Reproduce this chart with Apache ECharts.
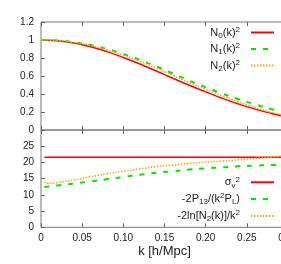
<!DOCTYPE html>
<html><head><meta charset="utf-8">
<script src="https://cdn.jsdelivr.net/npm/echarts@6/dist/echarts.min.js"></script>
<style>html,body{margin:0;padding:0;background:#fff}#c{width:281px;height:264px}</style>
</head><body><div id="c"></div>
<script>
// top panel: k values and N(k)^2 curves
const kTop = [0, 0.02, 0.04, 0.06, 0.08, 0.10, 0.12, 0.14, 0.16, 0.18, 0.20, 0.22, 0.24, 0.26, 0.28, 0.30];
const N0sq = [1.0, 0.991, 0.966, 0.925, 0.871, 0.806, 0.733, 0.655, 0.575, 0.497, 0.424, 0.352, 0.288, 0.232, 0.184, 0.143];
const N1sq = [1.0, 0.995, 0.975, 0.945, 0.90, 0.845, 0.778, 0.706, 0.628, 0.549, 0.474, 0.405, 0.342, 0.285, 0.232, 0.19];
const N2sq = [1.0, 0.994, 0.973, 0.94, 0.89, 0.832, 0.765, 0.69, 0.61, 0.528, 0.452, 0.38, 0.313, 0.25, 0.196, 0.152];
// bottom panel
const kBot = [0.004, 0.01, 0.02, 0.04, 0.06, 0.08, 0.10, 0.12, 0.14, 0.16, 0.18, 0.20, 0.22, 0.24, 0.26, 0.28, 0.30];
const sigmaV2 = [21.6, 21.6, 21.6, 21.6, 21.6, 21.6, 21.6, 21.6, 21.6, 21.6, 21.6, 21.6, 21.6, 21.6, 21.6, 21.6, 21.6];
const p13Term = [12.4, 12.6, 12.9, 13.5, 14.1, 14.8, 15.5, 16.2, 16.8, 17.3, 17.8, 18.2, 18.5, 18.8, 19.0, 19.2, 19.4];
const lnN2Term = [13.9, 13.6, 13.8, 14.6, 15.6, 16.5, 17.3, 18.0, 18.7, 19.2, 19.7, 20.1, 20.4, 20.8, 21.2, 21.6, 22.1];
const xTicks = ['0', '0.05', '0.10', '0.15', '0.20', '0.25', '0.30'];

const pairs = (xs, ys) => xs.map((x, i) => [x, ys[i]]);
const FONT = 'Liberation Sans';
const rich = {
  t: {fontSize: 11, fontFamily: FONT, color: '#222', lineHeight: 14},
  s: {fontSize: 8, fontFamily: FONT, color: '#222', lineHeight: 8, verticalAlign: 'bottom'},
  p: {fontSize: 8, fontFamily: FONT, color: '#222', lineHeight: 8, verticalAlign: 'top'}
};
const labels = {
  N0: '{t|N}{s|0}{t|(k)}{p|2}',
  N1: '{t|N}{s|1}{t|(k)}{p|2}',
  N2: '{t|N}{s|2}{t|(k)}{p|2}',
  sv: '{t|σ}{s|v}{p|2}',
  p13: '{t|-2P}{s|13}{t|/(k}{p|2}{t|P}{s|L}{t|)}',
  ln: '{t|-2ln[N}{s|2}{t|(k)]/k}{p|2}'
};
const red = {color: '#ff0000', width: 1.5, type: 'solid'};
const green = {color: '#00e600', width: 2, type: [5, 7]};
const orange = {color: '#ffa500', width: 1.5, type: [1.5, 1.5]};

const L = 41, W = 247;
const xBase = (gi, pos, showLabels) => ({
  type: 'value', gridIndex: gi, position: pos, min: 0, max: 0.3, interval: 0.05,
  axisLine: {show: false}, splitLine: {show: false},
  axisTick: {show: true, inside: true, length: 4, lineStyle: {color: '#666'}},
  axisLabel: {show: showLabels, fontFamily: FONT, fontSize: 10, color: '#222', margin: 6,
    formatter: v => xTicks[Math.round(v / 0.05)]}
});
const legendBase = {
  orient: 'vertical', align: 'right', right: 6, padding: 0, itemWidth: 23, itemHeight: 14,
  itemStyle: {opacity: 0, borderWidth: 0},
  formatter: n => labels[n], textStyle: {rich, padding: [0, 6, 0, 0]}
};
const opt = {
  animation: false,
  grid: [
    {left: L, top: 22, width: W, height: 108, show: true, borderColor: '#777', borderWidth: 1,
      containLabel: false, outerBoundsMode: 'none'},
    {left: L, top: 130, width: W, height: 97.3, show: true, borderColor: '#777', borderWidth: 1,
      containLabel: false, outerBoundsMode: 'none'}
  ],
  xAxis: [
    xBase(0, 'bottom', false), xBase(0, 'top', false),
    Object.assign(xBase(1, 'bottom', true), {name: 'k [h/Mpc]', nameLocation: 'middle', nameGap: 18,
      nameTextStyle: {fontFamily: FONT, fontSize: 13, color: '#222'}}),
    xBase(1, 'top', false)
  ],
  yAxis: [
    {type: 'value', gridIndex: 0, min: 0, max: 1.2, interval: 0.2,
      axisLine: {show: false}, splitLine: {show: false},
      axisTick: {show: true, inside: true, length: 4, lineStyle: {color: '#666'}},
      axisLabel: {fontFamily: FONT, fontSize: 10, color: '#222', margin: 7,
        formatter: v => String(Math.round(v * 10) / 10)}},
    {type: 'value', gridIndex: 1, min: 0, max: 30, interval: 5,
      axisLine: {show: false}, splitLine: {show: false},
      axisTick: {show: true, inside: true, length: 4, lineStyle: {color: '#666'}},
      axisLabel: {fontFamily: FONT, fontSize: 10, color: '#222', margin: 7, showMaxLabel: false}}
  ],
  legend: [
    Object.assign({}, legendBase, {data: ['N0', 'N1', 'N2'], top: 25.5, itemGap: 2.5}),
    Object.assign({}, legendBase, {data: ['sv', 'p13', 'ln'], top: 175.3, itemGap: 2.8})
  ],
  series: [
    {name: 'N0', type: 'line', xAxisIndex: 0, yAxisIndex: 0, data: pairs(kTop, N0sq), symbol: 'none', smooth: true, lineStyle: red, itemStyle: {color: red.color}},
    {name: 'N1', type: 'line', xAxisIndex: 0, yAxisIndex: 0, data: pairs(kTop, N1sq), symbol: 'none', smooth: true, lineStyle: green, itemStyle: {color: green.color}},
    {name: 'N2', type: 'line', xAxisIndex: 0, yAxisIndex: 0, data: pairs(kTop, N2sq), symbol: 'none', smooth: true, lineStyle: orange, itemStyle: {color: orange.color}},
    {name: 'sv', type: 'line', xAxisIndex: 2, yAxisIndex: 1, data: pairs(kBot, sigmaV2), symbol: 'none', lineStyle: red, itemStyle: {color: red.color}},
    {name: 'p13', type: 'line', xAxisIndex: 2, yAxisIndex: 1, data: pairs(kBot, p13Term), symbol: 'none', smooth: true, lineStyle: green, itemStyle: {color: green.color}},
    {name: 'ln', type: 'line', xAxisIndex: 2, yAxisIndex: 1, data: pairs(kBot, lnN2Term), symbol: 'none', smooth: true, lineStyle: orange, itemStyle: {color: orange.color}}
  ]
};
const chart = echarts.init(document.getElementById('c'), null, {renderer: 'canvas'});
chart.setOption(opt);
</script></body></html>
